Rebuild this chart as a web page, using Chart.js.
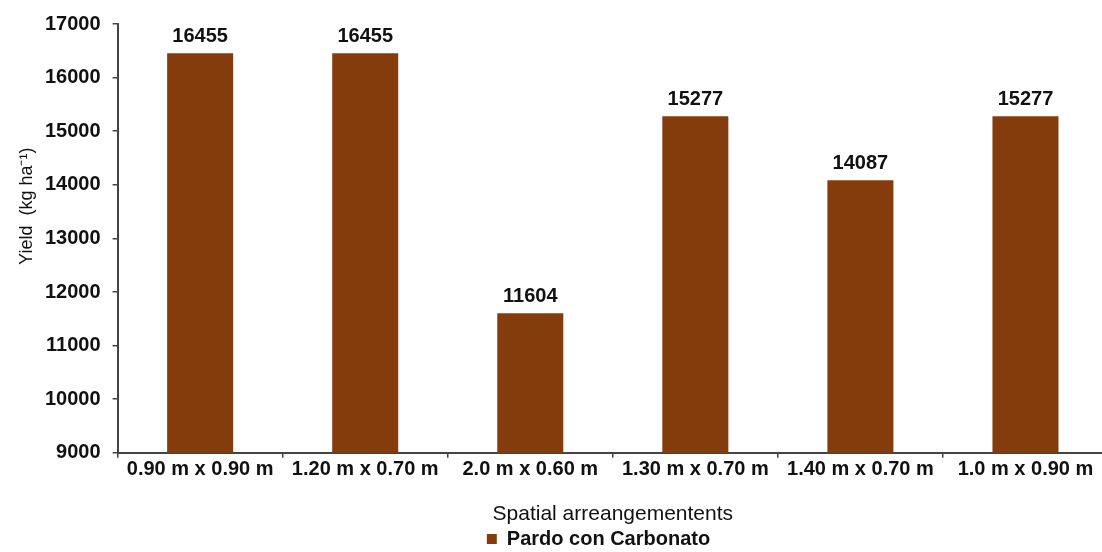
<!DOCTYPE html>
<html>
<head>
<meta charset="utf-8">
<script src="https://cdn.jsdelivr.net/npm/chart.js@4/dist/chart.umd.min.js"></script>
<style>
  html, body { margin: 0; padding: 0; background: #fff; overflow: hidden; }
  #wrap { width: 1102px; height: 552px; overflow: hidden; }
  #c { display: block; }
</style>
</head>
<body>
<div id="wrap"><canvas id="c" width="1108" height="552"></canvas></div>
<script>
const categories = ['0.90 m x 0.90 m', '1.20 m x 0.70 m', '2.0 m x 0.60 m', '1.30 m x 0.70 m', '1.40 m x 0.70 m', '1.0 m x 0.90 m'];
const yieldValues = [16455, 16455, 11604, 15277, 14087, 15277];
const seriesName = 'Pardo con Carbonato';
const yAxisTitle = 'Yield  (kg ha⁻¹)';
const xAxisTitle = 'Spatial arreangementents';

const BROWN = '#843c0c';
const FONT = "'Liberation Sans', Arial, sans-serif";

// writes each bar's value just above it
const valueLabels = {
  id: 'valueLabels',
  afterDatasetsDraw(chart) {
    const ctx = chart.ctx;
    const meta = chart.getDatasetMeta(0);
    ctx.save();
    ctx.font = 'bold 20px ' + FONT;
    ctx.fillStyle = '#111';
    ctx.textAlign = 'center';
    ctx.textBaseline = 'bottom';
    meta.data.forEach((bar, i) => {
      ctx.fillText(String(chart.data.datasets[0].data[i]), bar.x, bar.y - 7);
    });
    ctx.restore();
  }
};

// vertical axis title, set a little above the middle of the plot
const sideTitle = {
  id: 'sideTitle',
  afterDraw(chart) {
    const ctx = chart.ctx;
    const area = chart.chartArea;
    ctx.save();
    ctx.translate(27, area.top + (area.bottom - area.top) * 0.425);
    ctx.rotate(-Math.PI / 2);
    ctx.font = '18px ' + FONT;
    ctx.fillStyle = '#111';
    ctx.textAlign = 'center';
    ctx.textBaseline = 'middle';
    ctx.fillText(yAxisTitle, 0, 0);
    ctx.restore();
  }
};

// nudges the legend a little to the right of centre
const legendShift = {
  id: 'legendShift',
  afterLayout(chart) {
    if (chart.legend) {
      chart.legend.left += 28;
      chart.legend.right += 28;
    }
  }
};

new Chart(document.getElementById('c'), {
  type: 'bar',
  data: {
    labels: categories,
    datasets: [{
      label: seriesName,
      data: yieldValues,
      backgroundColor: BROWN,
      borderWidth: 0,
      categoryPercentage: 1.0,
      barPercentage: 0.4
    }]
  },
  options: {
    responsive: false,
    animation: false,
    layout: { padding: { top: 16, right: 0, left: 33, bottom: -7 } },
    plugins: {
      legend: {
        position: 'bottom',
        labels: {
          boxWidth: 10, boxHeight: 10, padding: 2,
          color: '#111',
          font: { family: FONT, size: 20, weight: 'bold' }
        }
      },
      tooltip: { enabled: false }
    },
    scales: {
      x: {
        grid: { display: true, drawOnChartArea: false, offset: true, tickLength: 5, color: '#444', lineWidth: 1.5 },
        border: { color: '#444', width: 2 },
        ticks: {
          color: '#111', font: { family: FONT, size: 20, weight: 'bold' }, padding: 0,
          maxRotation: 0, autoSkip: false
        },
        title: { display: true, text: xAxisTitle, color: '#111', font: { family: FONT, size: 21 }, padding: { top: 20, bottom: 0 } }
      },
      y: {
        min: 9000, max: 17000,
        grid: { display: true, drawOnChartArea: false, tickLength: 5, color: '#444', lineWidth: 1.5 },
        border: { color: '#444', width: 2 },
        ticks: {
          stepSize: 1000, color: '#111', font: { family: FONT, size: 20, weight: 'bold' }, padding: 12,
          callback: v => String(v)
        }
      }
    }
  },
  plugins: [valueLabels, sideTitle, legendShift]
});
</script>
</body>
</html>
